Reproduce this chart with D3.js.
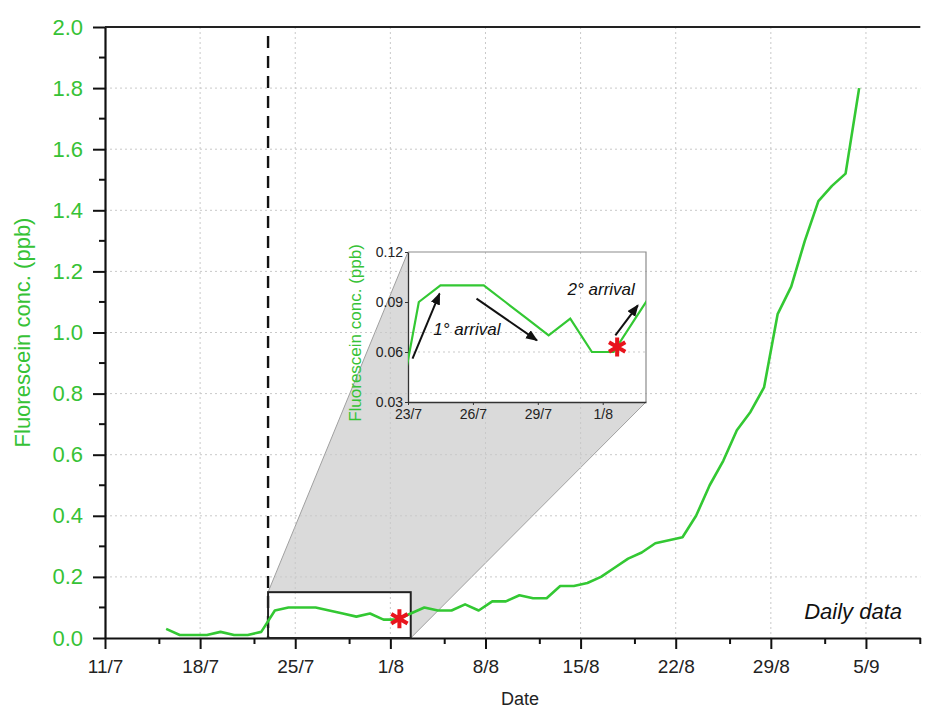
<!DOCTYPE html>
<html>
<head>
<meta charset="utf-8">
<script src="https://cdn.jsdelivr.net/npm/d3@7"></script>
<style>
  body { margin: 0; background: #fff; }
  svg { display: block; font-family: "Liberation Sans", Arial, Helvetica, sans-serif; }
</style>
</head>
<body>
<svg id="chart" width="925" height="710"></svg>
<script>
// ---- data: daily fluorescein concentration (ppb), sampled around midday ----
const sampleDates = [
  "15/7","16/7","17/7","18/7","19/7","20/7","21/7","22/7","23/7","24/7",
  "25/7","26/7","27/7","28/7","29/7","30/7","31/7","1/8","2/8","3/8",
  "4/8","5/8","6/8","7/8","8/8","9/8","10/8","11/8","12/8","13/8",
  "14/8","15/8","16/8","17/8","18/8","19/8","20/8","21/8","22/8","23/8",
  "24/8","25/8","26/8","27/8","28/8","29/8","30/8","31/8","1/9","2/9",
  "3/9","4/9"
];
const concentration = [
  0.03, 0.01, 0.01, 0.01, 0.02, 0.01, 0.01, 0.02, 0.09, 0.10,
  0.10, 0.10, 0.09, 0.08, 0.07, 0.08, 0.06, 0.06, 0.08, 0.10,
  0.09, 0.09, 0.11, 0.09, 0.12, 0.12, 0.14, 0.13, 0.13, 0.17,
  0.17, 0.18, 0.20, 0.23, 0.26, 0.28, 0.31, 0.32, 0.33, 0.40,
  0.50, 0.58, 0.68, 0.74, 0.82, 1.06, 1.15, 1.30, 1.43, 1.48,
  1.52, 1.80
];
const SAMPLE_HOUR = 12;

// ---- axes ----
const xDomain = ["11/7", "9/9"];
const xTickLabels = ["11/7","18/7","25/7","1/8","8/8","15/8","22/8","29/8","5/9"];
const xMinorTicks = ["15/7","22/7","29/7","5/8","12/8","19/8","26/8","2/9","9/9"];
const yTicks = [0, 0.2, 0.4, 0.6, 0.8, 1.0, 1.2, 1.4, 1.6, 1.8, 2.0];
const yMinorTicks = [0.1, 0.3, 0.5, 0.7, 0.9, 1.1, 1.3, 1.5, 1.7, 1.9];

// ---- zoomed window (inset) ----
const injectionDate = "23/7";
const zoomWindow = ["23/7 00", "2/8 12"];
const zoomTop = 0.15;
const insetXDomain = ["23/7", "3/8"];
const insetYDomain = [0.03, 0.12];
const insetXTickLabels = ["23/7","26/7","29/7","1/8"];
const insetYTicks = [0.03, 0.06, 0.09, 0.12];
const insetGridTicks = [0.06];

// second arrival marker
const secondArrival = { time: "1/8 16", value: 0.063 };

// annotation arrows inside the inset: [from, to] as [time, value]
const insetArrows = [
  [["23/7 05", 0.056], ["24/7 11", 0.095]],
  [["26/7 04", 0.092], ["28/7 23", 0.067]],
  [["1/8 14", 0.070], ["2/8 15", 0.088]]
];
const insetNotes = [
  { text: "1° arrival", time: "24/7 04", value: 0.070 },
  { text: "2° arrival", time: "30/7 09", value: 0.094 }
];

// ---- helpers ----
const parseDay = d3.utcParse("%d/%m");
const parseStamp = d3.utcParse("%d/%m %H");
const at = s => (s.includes(" ") ? parseStamp(s) : parseDay(s));
const fmtDay = d3.utcFormat("%-d/%-m");

const GREEN = "#33c833";
const GREEN_TEXT = "#36c236";
const RED = "#e8141c";

const svg = d3.select("#chart");

const x = d3.scaleUtc().domain(xDomain.map(at)).range([105, 920.3]);
const y = d3.scaleLinear().domain([0, 2]).range([638, 27]);

const ix = d3.scaleUtc().domain(insetXDomain.map(at)).range([408, 646]);
const iy = d3.scaleLinear().domain(insetYDomain).range([402, 252]);

const series = sampleDates.map((d, i) => ({
  t: d3.utcHour.offset(parseDay(d), SAMPLE_HOUR),
  v: concentration[i]
}));

// ---- connector between the zoom box and the inset ----
const zx0 = x(at(zoomWindow[0])), zx1 = x(at(zoomWindow[1]));
const P1 = [zx0, y(zoomTop)];
const P2 = [ix.range()[0], iy.range()[1]];
const P3 = [ix.range()[1], iy.range()[0]];
const P4 = [zx1, y(0)];

svg.append("path")
  .attr("d", d3.line()([P1, P2, P3, P4]) + "Z")
  .attr("fill", "#dadada");
svg.append("line").attr("x1", P1[0]).attr("y1", P1[1]).attr("x2", P2[0]).attr("y2", P2[1])
  .attr("stroke", "#a0a0a0").attr("stroke-width", 1);
svg.append("line").attr("x1", P4[0]).attr("y1", P4[1]).attr("x2", P3[0]).attr("y2", P3[1])
  .attr("stroke", "#a0a0a0").attr("stroke-width", 1);

// white backgrounds of the inset and the zoom box
svg.append("rect")
  .attr("x", ix.range()[0]).attr("y", iy.range()[1])
  .attr("width", ix.range()[1] - ix.range()[0]).attr("height", iy.range()[0] - iy.range()[1])
  .attr("fill", "#fff");
svg.append("rect")
  .attr("x", zx0).attr("y", y(zoomTop))
  .attr("width", zx1 - zx0).attr("height", y(0) - y(zoomTop))
  .attr("fill", "#fff");

// ---- main grid ----
const grid = svg.append("g").attr("stroke", "#c9c9c9").attr("stroke-width", 1)
  .attr("stroke-dasharray", "2,3");
grid.selectAll("line.v").data(xTickLabels.slice(1)).join("line")
  .attr("x1", d => x(at(d))).attr("x2", d => x(at(d)))
  .attr("y1", y(2)).attr("y2", y(0));
grid.selectAll("line.h").data(yTicks.filter(v => v > 0 && v < 2)).join("line")
  .attr("x1", x.range()[0]).attr("x2", x.range()[1])
  .attr("y1", d => y(d)).attr("y2", d => y(d));

// inset grid
svg.append("g").attr("stroke", "#c9c9c9").attr("stroke-width", 1).attr("stroke-dasharray", "2,3")
  .selectAll("line").data(insetGridTicks).join("line")
  .attr("x1", ix.range()[0]).attr("x2", ix.range()[1])
  .attr("y1", d => iy(d)).attr("y2", d => iy(d));

// ---- main axes ----
const yAxis = svg.append("g").attr("transform", `translate(${x.range()[0]},0)`)
  .call(d3.axisLeft(y).tickValues(yTicks).tickFormat(d3.format(".1f"))
    .tickSize(12).tickSizeOuter(0).tickPadding(10));
yAxis.select(".domain").attr("stroke", "#111").attr("stroke-width", 2.2);
yAxis.selectAll(".tick line").attr("stroke", "#111").attr("stroke-width", 2);
yAxis.selectAll(".tick text").attr("fill", GREEN_TEXT).attr("font-size", 22);

svg.append("g").attr("stroke", "#111").attr("stroke-width", 2)
  .selectAll("line").data(yMinorTicks).join("line")
  .attr("x1", x.range()[0] - 6).attr("x2", x.range()[0])
  .attr("y1", d => y(d)).attr("y2", d => y(d));

const xAxis = svg.append("g").attr("transform", `translate(0,${y(0)})`)
  .call(d3.axisBottom(x).tickValues(xTickLabels.map(at)).tickFormat(fmtDay)
    .tickSize(11).tickSizeOuter(0).tickPadding(10.5));
xAxis.select(".domain").attr("stroke", "#111").attr("stroke-width", 2.2);
xAxis.selectAll(".tick line").attr("stroke", "#111").attr("stroke-width", 2);
xAxis.selectAll(".tick text").attr("fill", "#222").attr("font-size", 19);

svg.append("g").attr("stroke", "#111").attr("stroke-width", 2)
  .selectAll("line").data(xMinorTicks).join("line")
  .attr("x1", d => x(at(d))).attr("x2", d => x(at(d)))
  .attr("y1", y(0)).attr("y2", y(0) + 6);

// top frame line
svg.append("line")
  .attr("x1", x.range()[0]).attr("x2", x.range()[1])
  .attr("y1", y(2)).attr("y2", y(2))
  .attr("stroke", "#222").attr("stroke-width", 2.2);

// axis titles
svg.append("text")
  .attr("transform", `translate(22,${(y(0) + y(2)) / 2}) rotate(-90)`)
  .attr("text-anchor", "middle").attr("dominant-baseline", "central")
  .attr("fill", GREEN_TEXT).attr("font-size", 22)
  .text("Fluorescein conc. (ppb)");
svg.append("text")
  .attr("x", 520).attr("y", 705).attr("text-anchor", "middle")
  .attr("fill", "#222").attr("font-size", 18)
  .text("Date");

svg.append("text")
  .attr("x", 902).attr("y", 619).attr("text-anchor", "end")
  .attr("font-style", "italic").attr("fill", "#111").attr("font-size", 22)
  .text("Daily data");

// injection date marker
svg.append("line")
  .attr("x1", x(at(injectionDate))).attr("x2", x(at(injectionDate)))
  .attr("y1", 36).attr("y2", y(0))
  .attr("stroke", "#111").attr("stroke-width", 2.4).attr("stroke-dasharray", "12,8");

// zoom box outline
svg.append("rect")
  .attr("x", zx0).attr("y", y(zoomTop))
  .attr("width", zx1 - zx0).attr("height", y(0) - y(zoomTop))
  .attr("fill", "none").attr("stroke", "#222").attr("stroke-width", 2);

// ---- main series ----
svg.append("path").datum(series)
  .attr("fill", "none").attr("stroke", GREEN).attr("stroke-width", 2.6)
  .attr("stroke-linejoin", "round")
  .attr("d", d3.line().x(d => x(d.t)).y(d => y(d.v)));

const star = d3.symbol(d3.symbolAsterisk, 250);
svg.append("path")
  .attr("d", star())
  .attr("transform", `translate(${x(at(secondArrival.time))},${y(secondArrival.value)})`)
  .attr("fill", "none").attr("stroke", RED).attr("stroke-width", 4);

// ---- inset ----
const inset = svg.append("g");
inset.append("defs").append("clipPath").attr("id", "insetClip")
  .append("rect")
  .attr("x", ix.range()[0]).attr("y", iy.range()[1])
  .attr("width", ix.range()[1] - ix.range()[0]).attr("height", iy.range()[0] - iy.range()[1]);

// frame: top and right in grey
inset.append("path")
  .attr("d", d3.line()([[ix.range()[0], iy.range()[1]], [ix.range()[1], iy.range()[1]], [ix.range()[1], iy.range()[0]]]))
  .attr("fill", "none").attr("stroke", "#8c8c8c").attr("stroke-width", 1.2);

const iyAxis = inset.append("g").attr("transform", `translate(${ix.range()[0]},0)`)
  .call(d3.axisLeft(iy).tickValues(insetYTicks).tickFormat(d3.format(".2f"))
    .tickSize(3).tickSizeOuter(0).tickPadding(2));
iyAxis.select(".domain").attr("stroke", "#333").attr("stroke-width", 1.3);
iyAxis.selectAll(".tick line").attr("stroke", "#333");
iyAxis.selectAll(".tick text").attr("fill", "#222").attr("font-size", 14);

const ixAxis = inset.append("g").attr("transform", `translate(0,${iy.range()[0]})`)
  .call(d3.axisBottom(ix).tickValues(insetXTickLabels.map(at)).tickFormat(fmtDay)
    .tickSize(3).tickSizeOuter(0).tickPadding(4));
ixAxis.select(".domain").attr("stroke", "#333").attr("stroke-width", 1.3);
ixAxis.selectAll(".tick line").attr("stroke", "#333");
ixAxis.selectAll(".tick text").attr("fill", "#222").attr("font-size", 14);

inset.append("text")
  .attr("transform", `translate(355,${(iy.range()[0] + iy.range()[1]) / 2 + 6}) rotate(-90)`)
  .attr("text-anchor", "middle").attr("dominant-baseline", "central")
  .attr("fill", GREEN_TEXT).attr("font-size", 17)
  .text("Fluorescein conc. (ppb)");

inset.append("path").datum(series)
  .attr("clip-path", "url(#insetClip)")
  .attr("fill", "none").attr("stroke", GREEN).attr("stroke-width", 2.2)
  .attr("stroke-linejoin", "miter")
  .attr("d", d3.line().x(d => ix(d.t)).y(d => iy(d.v)));

inset.append("path")
  .attr("d", star())
  .attr("transform", `translate(${ix(at(secondArrival.time))},${iy(secondArrival.value)})`)
  .attr("fill", "none").attr("stroke", RED).attr("stroke-width", 4);

// arrows
const defs = svg.append("defs");
defs.append("marker").attr("id", "head")
  .attr("viewBox", "0 0 10 8").attr("refX", 9).attr("refY", 4)
  .attr("markerWidth", 12).attr("markerHeight", 10)
  .attr("markerUnits", "userSpaceOnUse").attr("orient", "auto")
  .append("path").attr("d", "M0,0 L10,4 L0,8 Z").attr("fill", "#111");

inset.selectAll("line.arrow").data(insetArrows).join("line")
  .attr("class", "arrow")
  .attr("x1", d => ix(at(d[0][0]))).attr("y1", d => iy(d[0][1]))
  .attr("x2", d => ix(at(d[1][0]))).attr("y2", d => iy(d[1][1]))
  .attr("stroke", "#111").attr("stroke-width", 2)
  .attr("marker-end", "url(#head)");

inset.selectAll("text.note").data(insetNotes).join("text")
  .attr("class", "note")
  .attr("x", d => ix(at(d.time))).attr("y", d => iy(d.value))
  .attr("font-style", "italic").attr("font-size", 17).attr("fill", "#111")
  .text(d => d.text);
</script>
</body>
</html>
